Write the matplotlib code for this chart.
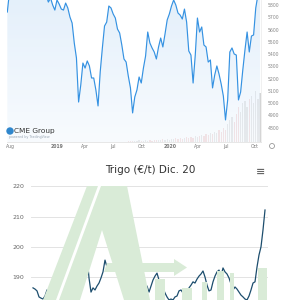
import matplotlib.pyplot as plt
import matplotlib.dates as mdates
from matplotlib.colors import LinearSegmentedColormap
from matplotlib.patches import Polygon, Circle
import numpy as np
import pandas as pd

# CME wheat futures, weekly closes (top chart)
cme_start = "2018-07-23"
cme_close = [
    5743, 5906, 5963, 6004, 5987, 6045, 6004, 6069, 6020, 6085,
    6045, 5987, 6020, 5963, 6004, 5939, 5971, 5906, 5882, 5824,
    5857, 5800, 5759, 5841, 5808, 5767, 5759, 5816, 5776, 5702,
    5653, 5490, 5368, 5009, 5148, 5327, 5286, 5344, 5303, 5205,
    5205, 5107, 4977, 5254, 5450, 5629, 5661, 5792, 5776, 5727,
    5694, 5604, 5572, 5474, 5360, 5335, 5221, 5124, 4920, 5050,
    5107, 5213, 5164, 5286, 5384, 5580, 5490, 5450, 5417, 5360,
    5458, 5531, 5458, 5564, 5678, 5727, 5792, 5841, 5800, 5735,
    5718, 5686, 5767, 5661, 5425, 5392, 5164, 5392, 5694, 5580,
    5621, 5474, 5458, 5335, 5352, 5124, 5229, 5303, 5237, 5156,
    5058, 4863, 5026, 5417, 5450, 5401, 5392, 5026, 5091, 5270,
    5433, 5580, 5417, 5547, 5556, 5776, 5882, 5922,
]
cme_volume = [0] * 56 + [
    1, 1, 1, 1, 1, 2, 1, 1, 2, 1, 2, 1, 2, 2,
    2, 2, 3, 2, 3, 2, 3, 3, 4, 3, 4, 3, 4, 5, 4,
    5, 4, 6, 5, 6, 7, 6, 8, 7, 9, 8, 10, 9, 12, 10,
    14, 12, 18, 22, 25, 20, 28, 35, 30, 38,
    40, 35, 42, 45, 38, 50, 42, 48,
]
cme_ticks = ["2018-08-01", "2019-01-01", "2019-04-01", "2019-07-01", "2019-10-01",
             "2020-01-01", "2020-04-01", "2020-07-01", "2020-10-01"]
cme_tick_labels = ["Aug", "2019", "Apr", "Jul", "Oct", "2020", "Apr", "Jul", "Oct"]
cme_price_ticks = [4800, 4900, 5000, 5100, 5200, 5300, 5400, 5500, 5600, 5700, 5800]

# Euronext wheat Dec 20 (bottom chart)
trigo_title = "Trigo (€/t) Dic. 20"
trigo_close = [
    186.4, 186.0, 185.4, 183.4, 183.0, 182.7, 183.7, 185.7, 184.4, 185.7,
    188.0, 186.7, 187.3, 186.4, 187.7, 186.7, 189.3, 190.3, 188.7, 189.7,
    186.4, 189.0, 191.3, 192.3, 189.7, 191.7, 195.0, 197.3, 189.7, 185.0,
    186.4, 185.7, 187.0, 188.0, 189.7, 191.7, 195.6, 193.3, 194.3, 192.3,
    193.6, 192.3, 193.0, 191.7, 192.3, 190.0, 188.0, 186.4, 185.4, 184.4,
    183.7, 183.4, 184.4, 185.0, 185.4, 186.4, 185.7, 187.0, 185.0, 187.0,
    189.0, 190.3, 191.3, 189.0, 187.3, 186.4, 184.7, 183.4, 182.4, 182.7,
    182.4, 183.4, 183.7, 185.4, 185.7, 184.7, 185.4, 184.4, 186.4, 187.3,
    188.4, 188.0, 189.3, 190.3, 191.0, 192.0, 190.0, 187.3, 185.4, 185.7,
    188.4, 190.3, 191.7, 192.3, 190.3, 193.0, 191.7, 191.0, 189.7, 187.7,
    185.7, 186.7, 186.0, 185.0, 184.0, 183.4, 182.7, 182.4, 183.7, 185.7,
    188.0, 188.4, 193.3, 197.3, 200.0, 205.6, 212.2,
]
trigo_ticks = [190, 200, 210, 220]

W, H = 300, 300
fig = plt.figure(figsize=(3, 3), dpi=100)


def px(x, y):
    # pixel (from top-left) -> figure fraction
    return x / W, 1 - y / H


# ---------------- top chart ----------------
dates = pd.date_range(cme_start, periods=len(cme_close), freq="7D")
x0 = mdates.date2num(dates[0] - pd.Timedelta(days=1))
x1 = mdates.date2num(dates[-1] + pd.Timedelta(days=3))
ymin, ymax = 4683, 5841

ax = fig.add_axes([7 / W, 1 - 142 / H, 254 / W, 142 / H])

# volume bars on a twin axis
vax = ax.twinx()
vcol = ["#efc4c4" if i > 0 and cme_close[i] < cme_close[i - 1] else "#d4d4d4"
        for i in range(len(cme_close))]
vax.bar(dates, cme_volume, width=4, color=vcol, zorder=1)
vax.set_ylim(0, 140)
vax.axis("off")
ax.set_zorder(vax.get_zorder() + 1)
ax.patch.set_visible(False)

# gradient fill under the line
fill = ax.fill_between(dates, cme_close, ymin, color="none")
grad = np.linspace(0, 1, 256).reshape(-1, 1)
cmap = LinearSegmentedColormap.from_list("g", ["#f4f9fe", "#d3e6f8"])
img = ax.imshow(grad, cmap=cmap, aspect="auto", origin="lower",
                extent=[x0, x1, ymin, ymax], zorder=1, alpha=0.6)
img.set_clip_path(fill.get_paths()[0], transform=ax.transData)

ax.plot(dates, cme_close, color="#3592e2", lw=0.85, zorder=3)
ax.set_xlim(x0, x1)
ax.set_ylim(ymin, ymax)

ax.yaxis.tick_right()
ax.set_yticks(cme_price_ticks)
ax.set_yticklabels([str(v) for v in cme_price_ticks])
ax.tick_params(axis="y", length=0, pad=5, labelsize=3.3, labelcolor="#888888")
ax.set_xticks(mdates.date2num(pd.to_datetime(cme_ticks)))
ax.set_xticklabels(cme_tick_labels)
ax.tick_params(axis="x", length=0, pad=1.5, labelsize=3.3, labelcolor="#777777")
for lab in ax.get_xticklabels():
    if lab.get_text().isdigit():
        lab.set_fontweight("bold")
for s in ["top", "left"]:
    ax.spines[s].set_visible(False)
ax.spines["bottom"].set_color("#e3e3e3")
ax.spines["right"].set_color("#eeeeee")
ax.spines["bottom"].set_linewidth(0.6)
ax.spines["right"].set_linewidth(0.6)

# CME logo
fig.add_artist(Circle(px(10, 131), 3 / W, color="#2f86cc",
                      transform=fig.transFigure, zorder=5))
fig.text(*px(14, 131), "CME Group", fontsize=5.3, color="#333333",
         va="center", ha="left", zorder=5)
fig.text(*px(9, 137.5), "powered by TradingView", fontsize=2.4,
         color="#9aa7b5", va="center", ha="left", zorder=5)
fig.add_artist(Circle(px(272, 146), 2.5 / W, fill=False, ec="#888888",
                      lw=0.5, transform=fig.transFigure, zorder=5))

# ---------------- bottom chart ----------------
bx = fig.add_axes([31 / W, 0, 237 / W, 120 / H])
bx.set_xlim(-1, len(trigo_close) + 0.5)
bx.set_ylim(182.38, 222.15)

# watermark logo
green = "#d9ebd7"
wm = [
    [(43, 300), (87, 186), (127, 186), (150, 300), (124, 300), (102, 230), (80, 300)],
    [(107, 263), (174, 263), (174, 259), (187, 267.5), (174, 276), (174, 272), (104, 272)],
    [(155, 279), (165, 279), (165, 300), (155, 300)],
    [(182, 288), (192, 288), (192, 300), (182, 300)],
    [(202, 282), (207, 282), (207, 300), (202, 300)],
    [(217, 271), (224, 271), (224, 300), (217, 300)],
    [(230, 273), (234, 273), (234, 300), (230, 300)],
    [(258, 268), (267, 268), (267, 300), (258, 300)],
]
for poly in wm:
    fig.add_artist(Polygon([px(*p) for p in poly], closed=True, color=green,
                           lw=0, transform=fig.transFigure, zorder=0.5))
fig.add_artist(Polygon([px(*p) for p in [(98, 186), (101, 186), (59, 300), (56, 300)]],
                       closed=True, color="white", lw=0,
                       transform=fig.transFigure, zorder=0.6))
bx.patch.set_visible(False)

bx.plot(range(len(trigo_close)), trigo_close, color="#1d4e6e", lw=0.9, zorder=3)
bx.set_yticks(trigo_ticks)
bx.set_yticklabels([str(v) for v in trigo_ticks])
bx.tick_params(axis="y", length=0, pad=5, labelsize=4.5, labelcolor="#666666")
bx.set_xticks([])
bx.grid(axis="y", color="#e3e3e3", lw=0.7)
for s in bx.spines.values():
    s.set_visible(False)

fig.text(*px(150, 170), trigo_title, fontsize=7.5, color="#333333",
         ha="center", va="center")
fig.text(*px(261, 172), "≡", fontsize=8, color="#666666",
         ha="center", va="center", fontweight="bold")

fig.savefig("out.png", dpi=100)
